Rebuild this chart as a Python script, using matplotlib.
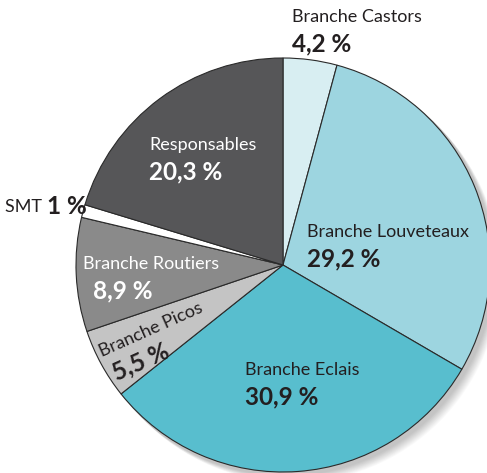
import matplotlib
matplotlib.use("Agg")
import matplotlib.pyplot as plt
from matplotlib.patches import Circle

labels = ["Branche Castors", "Branche Louveteaux", "Branche Eclais", "Branche Picos",
          "Branche Routiers", "SMT", "Responsables"]
values = [4.2, 29.2, 30.9, 5.5, 8.9, 1.0, 20.3]
pct_text = ["4,2 %", "29,2 %", "30,9 %", "5,5 %", "8,9 %", "1 %", "20,3 %"]
colors = ["#d8eef2", "#9dd5e0", "#58bece", "#c4c4c4", "#8a8a8a", "#ffffff", "#565658"]

W, H = 487, 473
fig = plt.figure(figsize=(W / 100, H / 100), dpi=100)
ax = fig.add_axes([0, 0, 1, 1])

cx, cy, r = 283, H - 265, 207

# soft shadow
for i in range(12):
    ax.add_patch(Circle((cx + 3 + i * 0.6, cy - 3 - i * 0.6), r + 1, color="black",
                        alpha=0.018, lw=0, zorder=0))

ax.pie(values, colors=colors, startangle=90, counterclock=False, center=(cx, cy),
       radius=r, wedgeprops=dict(edgecolor="#2a2a2a", linewidth=0.8), frame=True)
ax.set_xlim(0, W)
ax.set_ylim(0, H)
ax.set_aspect("equal")
ax.axis("off")

font = "Lato"
dark = "#231f20"
ls, ps = 13, 17.5

def lab(x, y, name, pct, color, dx=0):
    ax.text(x, H - y, name, fontsize=ls, color=color, family=font, va="center",
            ha="left")
    ax.text(x + dx, H - y - 27, pct, fontsize=ps, color=color, family=font,
            fontweight="bold", va="center", ha="left")

lab(292, 17, labels[0], pct_text[0], dark)
lab(149, 145, labels[6], pct_text[6], "white")
lab(307, 232, labels[1], pct_text[1], dark)
lab(83, 264, labels[4], pct_text[4], "white", dx=10)
lab(245, 370, labels[2], pct_text[2], dark)

# SMT
t = ax.text(5, H - 207, labels[5] + " ", fontsize=ls, color=dark, family=font,
            va="center", ha="left")
fig.canvas.draw()
bb = t.get_window_extent()
ax.text(bb.x1, H - 207, pct_text[5], fontsize=ps, color=dark, family=font,
        fontweight="bold", va="center", ha="left")

# Picos (rotated)
ax.text(102, H - 357, labels[3], fontsize=ls, color=dark, family=font,
        va="baseline", ha="left", rotation=24, rotation_mode="anchor")
ax.text(117, H - 381, pct_text[3], fontsize=ps, color=dark, family=font,
        fontweight="bold", va="baseline", ha="left", rotation=24, rotation_mode="anchor")

fig.savefig("out.png", dpi=100)
